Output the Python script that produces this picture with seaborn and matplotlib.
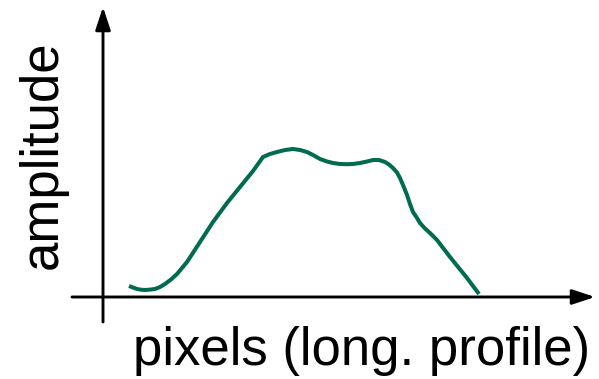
import matplotlib
matplotlib.use("Agg")
import matplotlib.pyplot as plt
import seaborn as sns
import pandas as pd

# Longitudinal profile: position along the profile vs. amplitude
position = [26, 30, 34, 38, 42, 47, 52, 57, 62, 68, 74, 84, 97, 110, 124,
            137, 150, 160, 167, 174, 182, 190, 197, 204, 210, 217, 224,
            230, 237, 244, 250, 257, 264, 270, 276, 282, 286, 290, 294,
            297, 300, 304, 307, 310, 314, 317, 322, 327, 334, 347, 364, 376]
amplitude = [11, 9.5, 8, 7.3, 7, 7.4, 8, 10, 13, 17.5, 23, 35, 55, 75, 94,
             110, 126, 140, 143, 145, 147, 148, 147, 145, 142, 138, 135.5,
             134, 133, 132.8, 133, 134, 135.5, 137, 137, 135, 132.5, 129,
             124.5, 119, 112, 102, 93, 85, 79, 74, 68.5, 64, 57, 40, 19, 3]

x_label = "pixels (long. profile)"
y_label = "amplitude"

df = pd.DataFrame({"position": position, "amplitude": amplitude})

sns.set_theme(style="white")
plt.rcParams["font.family"] = ["Liberation Sans", "DejaVu Sans"]

fig = plt.figure(figsize=(5.99, 3.79), dpi=100)
ax = fig.add_axes([0, 0, 1, 1])
ax.set_xlim(-103, 496)
ax.set_ylim(-82, 297)
ax.set_axis_off()

sns.lineplot(data=df, x="position", y="amplitude", ax=ax,
             color="#006b4f", linewidth=2.9, solid_capstyle="butt",
             solid_joinstyle="round")

# hand-drawn style axes with arrow heads
arrow = dict(arrowstyle="-|>,head_length=1.15,head_width=0.38",
             color="black", lw=2.1, shrinkA=0, shrinkB=0)
ax.annotate("", xy=(492, 0), xytext=(-31, 0), arrowprops=arrow)
ax.annotate("", xy=(0, 290), xytext=(0, -25), arrowprops=arrow)

ax.text(487, -54, x_label, ha="right", va="center", fontsize=38,
        color="black")
ax.text(-60, 142, y_label, ha="center", va="center", rotation=90,
        fontsize=38, color="black")

fig.savefig("out.png", dpi=100)
